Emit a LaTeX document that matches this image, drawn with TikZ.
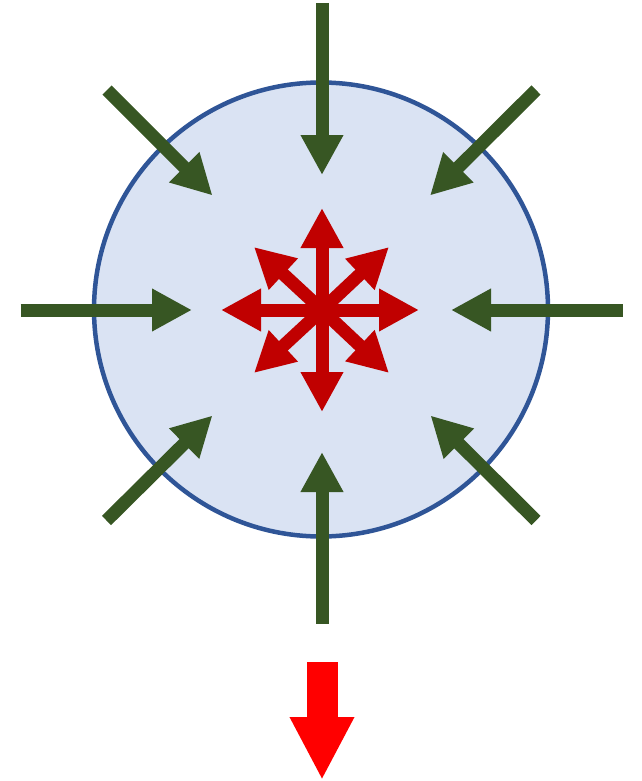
\documentclass[tikz,border=0pt]{standalone}
\usepackage{tikz}
\usetikzlibrary{arrows.meta}
\definecolor{ringblue}{HTML}{2F5597}
\definecolor{lightblue}{HTML}{DAE3F3}
\definecolor{darkgreen}{HTML}{375623}
\definecolor{darkred}{HTML}{C00000}
\definecolor{brightred}{HTML}{FF0000}

\begin{document}
\begin{tikzpicture}[x=1pt,y=-1pt,
  push/.style={darkgreen,line width=13pt,-{Triangle[length=40pt,width=40pt]}},
  burst/.style={darkred,line width=13pt,-{Triangle[length=40pt,width=40pt]}}]
\useasboundingbox (0,0) rectangle (641,781);
\coordinate (mid) at (321,309.5);
\coordinate (hub) at (322,310);
\draw[ringblue,line width=4.5pt,fill=lightblue] (mid) circle (227pt);
% inward pressure
\foreach \sx/\sy/\tx/\ty in {322/3/322/175, 20.5/310/192/310, 622.5/310/451/310, 322/623.5/322/452,
  107/90/212.5/195.5, 536/90/430/195.5, 106.5/520.5/212.5/415.5, 536/520.5/430.5/415.5}{
  \draw[push] (\sx,\sy) -- (\tx,\ty);}
% outward burst
\foreach \tx/\ty in {322/208, 322/412, 221/310, 419/310, 254/247, 389/247, 254/373, 389/373}{
  \draw[burst] (hub) -- (\tx,\ty);}
\draw[brightred,line width=31pt,-{Triangle[length=63pt,width=60pt]}] (322,662) -- (322,780);
\end{tikzpicture}
\end{document}
